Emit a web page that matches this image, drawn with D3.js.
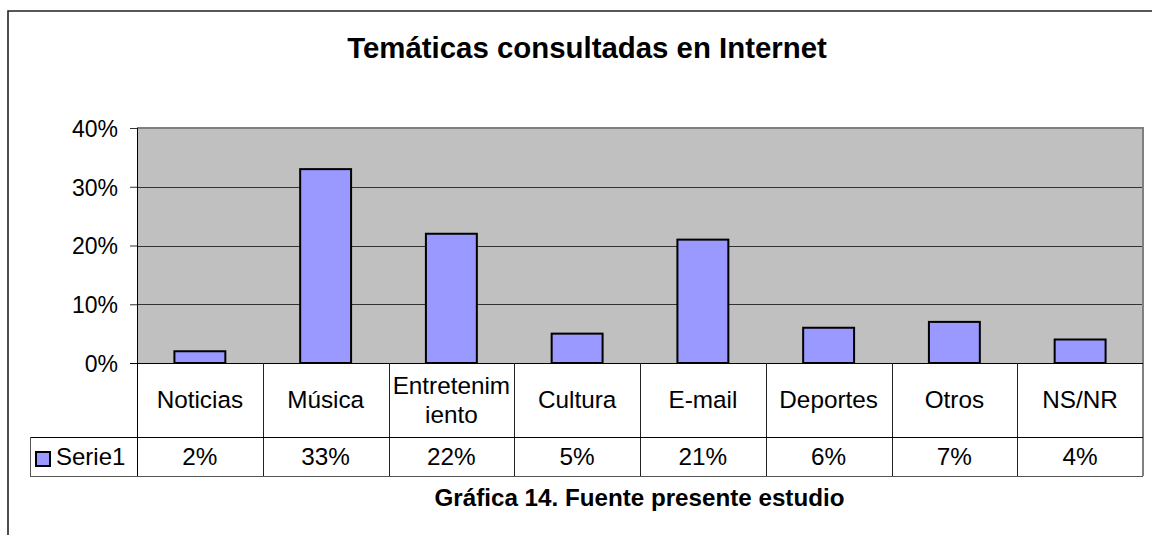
<!DOCTYPE html>
<html>
<head>
<meta charset="utf-8">
<script src="https://cdn.jsdelivr.net/npm/d3@7"></script>
<style>
  body { margin: 0; background: #fff; }
  svg { display: block; font-family: "Liberation Sans", Arial, sans-serif; }
</style>
</head>
<body>
<div id="wrapper"></div>
<script>
// Data
const categories = ["Noticias", "Música", "Entretenimiento", "Cultura", "E-mail", "Deportes", "Otros", "NS/NR"]
const categoryLines = [["Noticias"], ["Música"], ["Entretenim", "iento"], ["Cultura"], ["E-mail"], ["Deportes"], ["Otros"], ["NS/NR"]]
const values = [0.02, 0.33, 0.22, 0.05, 0.21, 0.06, 0.07, 0.04]
const valueLabels = ["2%", "33%", "22%", "5%", "21%", "6%", "7%", "4%"]
const yTicks = [0, 0.1, 0.2, 0.3, 0.4]
const seriesName = "Serie1"
const title = "Temáticas consultadas en Internet"
const caption = "Gráfica 14. Fuente presente estudio"

function drawChart() {
  const dms = { width: 1152, height: 535 }
  const plot = { left: 137, right: 1143, top: 128, bottom: 363 }
  const table = { rowCat: 437, rowVal: 476, legendLeft: 30 }

  const svg = d3.select("#wrapper")
    .append("svg")
    .attr("width", dms.width)
    .attr("height", dms.height)

  // outer frame (cut off on right and bottom)
  svg.append("path")
    .attr("d", `M8,${dms.height + 5} L8,11 L${dms.width + 5},11`)
    .attr("fill", "none")
    .attr("stroke", "#222")
    .attr("stroke-width", 1.6)

  // title
  svg.append("text")
    .attr("x", 587)
    .attr("y", 58)
    .attr("text-anchor", "middle")
    .attr("font-size", "29.4px")
    .attr("font-weight", "bold")
    .text(title)

  // scales
  const xScale = d3.scaleBand()
    .domain(categories)
    .range([plot.left, plot.right])
    .padding(0)

  const yScale = d3.scaleLinear()
    .domain([0, 0.4])
    .range([plot.bottom, plot.top])

  // plot area
  svg.append("rect")
    .attr("x", plot.left)
    .attr("y", plot.top)
    .attr("width", plot.right - plot.left)
    .attr("height", plot.bottom - plot.top)
    .attr("fill", "#c0c0c0")

  // gridlines
  svg.append("g")
    .selectAll("line")
    .data(yTicks.filter(d => d > 0 && d < 0.4))
    .join("line")
    .attr("x1", plot.left)
    .attr("x2", plot.right)
    .attr("y1", d => Math.round(yScale(d)) + 0.5)
    .attr("y2", d => Math.round(yScale(d)) + 0.5)
    .attr("stroke", "#333")
    .attr("stroke-width", 1)

  // plot border top / right
  svg.append("path")
    .attr("d", `M${plot.left},${plot.top} L${plot.right},${plot.top} L${plot.right},${table.rowVal}`)
    .attr("fill", "none")
    .attr("stroke", "#808080")
    .attr("stroke-width", 2)

  // bars
  const barW = xScale.bandwidth() * 0.405
  svg.append("g")
    .selectAll("rect")
    .data(categories)
    .join("rect")
    .attr("x", d => xScale(d) + (xScale.bandwidth() - barW) / 2)
    .attr("y", (d, i) => yScale(values[i]))
    .attr("width", barW)
    .attr("height", (d, i) => plot.bottom - yScale(values[i]))
    .attr("fill", "#9999ff")
    .attr("stroke", "#000")
    .attr("stroke-width", 2)

  // y axis
  const yAxisGenerator = d3.axisLeft(yScale)
    .tickValues(yTicks)
    .tickSize(7)
    .tickPadding(12)
    .tickFormat(d3.format(".0%"))

  const yAxis = svg.append("g")
    .attr("transform", `translate(${plot.left},0)`)
    .call(yAxisGenerator)

  yAxis.select(".domain").remove()
  yAxis.selectAll(".tick line").attr("stroke", "#333")
  yAxis.selectAll(".tick text")
    .attr("font-size", "23px")
    .attr("font-family", "Liberation Sans, Arial, sans-serif")
    .attr("fill", "#000")
    .attr("dy", "0.36em")

  // axis line (left) and baseline
  svg.append("line")
    .attr("x1", plot.left + 0.5).attr("x2", plot.left + 0.5)
    .attr("y1", plot.top).attr("y2", table.rowVal)
    .attr("stroke", "#000")
  svg.append("line")
    .attr("x1", plot.left - 7).attr("x2", plot.right)
    .attr("y1", plot.bottom + 0.5).attr("y2", plot.bottom + 0.5)
    .attr("stroke", "#000")

  // data table
  const tableG = svg.append("g")

  tableG.selectAll("line.col")
    .data(categories.slice(1))
    .join("line")
    .attr("class", "col")
    .attr("x1", d => Math.round(xScale(d)) + 0.5)
    .attr("x2", d => Math.round(xScale(d)) + 0.5)
    .attr("y1", plot.bottom)
    .attr("y2", table.rowVal)
    .attr("stroke", "#222")

  tableG.append("line")
    .attr("x1", table.legendLeft).attr("x2", plot.right)
    .attr("y1", table.rowCat + 0.5).attr("y2", table.rowCat + 0.5)
    .attr("stroke", "#000")
  tableG.append("line")
    .attr("x1", table.legendLeft).attr("x2", plot.right)
    .attr("y1", table.rowVal + 0.5).attr("y2", table.rowVal + 0.5)
    .attr("stroke", "#555")
  tableG.append("line")
    .attr("x1", table.legendLeft + 0.5).attr("x2", table.legendLeft + 0.5)
    .attr("y1", table.rowCat).attr("y2", table.rowVal)
    .attr("stroke", "#555")

  // category labels
  const catMid = (plot.bottom + table.rowCat) / 2
  const lineH = 29
  tableG.selectAll("text.cat")
    .data(categories)
    .join("text")
    .attr("class", "cat")
    .attr("x", d => xScale(d) + xScale.bandwidth() / 2)
    .attr("y", catMid)
    .attr("text-anchor", "middle")
    .attr("font-size", "24.3px")
    .each(function(d, i) {
      const lines = categoryLines[i]
      const start = -(lines.length - 1) * lineH / 2
      d3.select(this).selectAll("tspan")
        .data(lines)
        .join("tspan")
        .attr("x", xScale(d) + xScale.bandwidth() / 2)
        .attr("y", (l, j) => catMid + start + j * lineH + 8)
        .text(l => l)
    })

  // value labels
  const valMid = (table.rowCat + table.rowVal) / 2
  tableG.selectAll("text.val")
    .data(categories)
    .join("text")
    .attr("class", "val")
    .attr("x", d => xScale(d) + xScale.bandwidth() / 2)
    .attr("y", valMid + 8.5)
    .attr("text-anchor", "middle")
    .attr("font-size", "24.3px")
    .text((d, i) => valueLabels[i])

  // legend key
  tableG.append("rect")
    .attr("x", 36)
    .attr("y", 452)
    .attr("width", 14)
    .attr("height", 14)
    .attr("fill", "#9999ff")
    .attr("stroke", "#000")
    .attr("stroke-width", 2)
  tableG.append("text")
    .attr("x", 56)
    .attr("y", valMid + 8.5)
    .attr("font-size", "24px")
    .text(seriesName)

  // caption
  svg.append("text")
    .attr("x", 639.5)
    .attr("y", 506)
    .attr("text-anchor", "middle")
    .attr("font-size", "24.2px")
    .attr("font-weight", "bold")
    .text(caption)
}

drawChart()
</script>
</body>
</html>
